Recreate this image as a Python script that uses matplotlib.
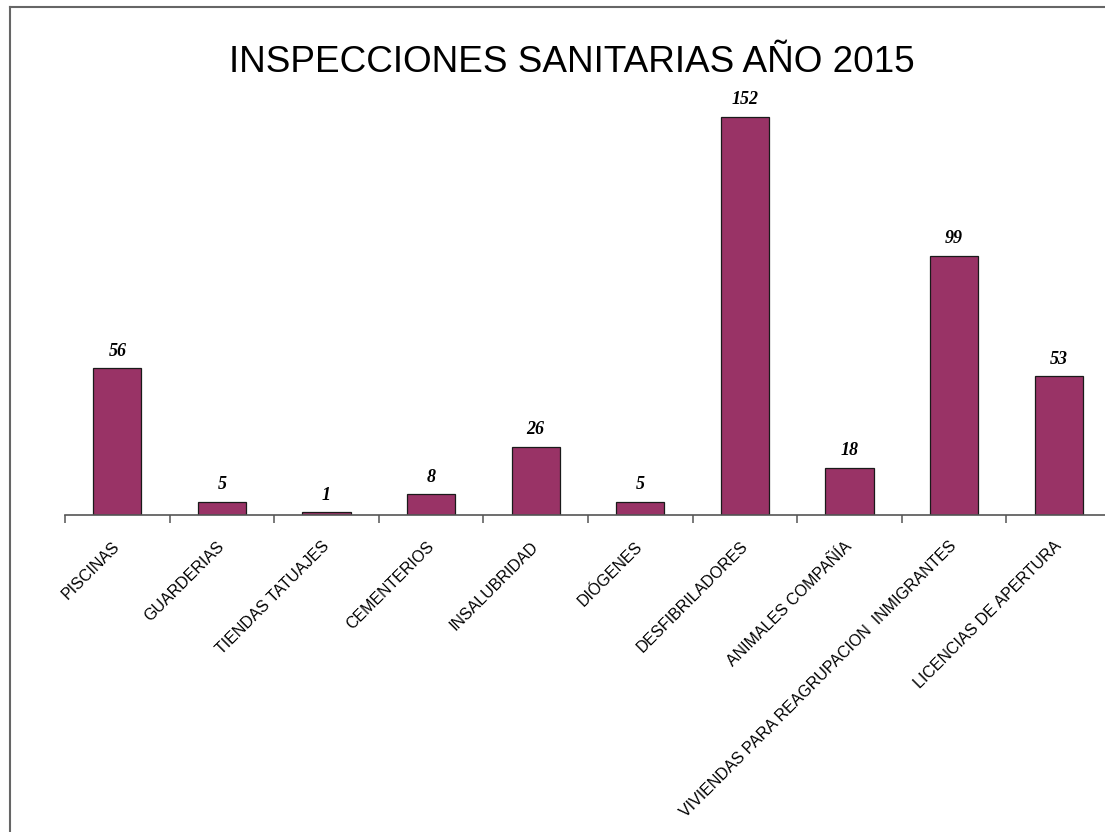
import matplotlib
matplotlib.use("Agg")
import matplotlib.pyplot as plt
from matplotlib.lines import Line2D
from matplotlib.transforms import ScaledTranslation

categories = [
    "PISCINAS", "GUARDERIAS", "TIENDAS TATUAJES", "CEMENTERIOS",
    "INSALUBRIDAD", "DIÓGENES", "DESFIBRILADORES", "ANIMALES COMPAÑÍA",
    "VIVIENDAS PARA REAGRUPACION  INMIGRANTES", "LICENCIAS DE APERTURA",
]
values = [56, 5, 1, 8, 26, 5, 152, 18, 99, 53]
title = "INSPECCIONES SANITARIAS AÑO 2015"

W, H = 1105, 832
fig = plt.figure(figsize=(W / 100, H / 100), dpi=100)
fig.patch.set_facecolor("white")

# axes placed in pixel terms: baseline at y=515, 10 slots of ~104.6 px from x=65
x0, base, top = 65, 515, 100
slot = 104.6
ax = fig.add_axes([x0 / W, (H - base) / H, 10 * slot / W, (base - top) / H])
ax.set_xlim(-0.5, len(categories) - 0.5)
ax.set_ylim(0, (base - top) / 2.62)

xs = list(range(len(categories)))
bars = ax.bar(xs, values, width=0.46, color="#993366", edgecolor="#1a1a1a", linewidth=0.9)

for b, v in zip(bars, values):
    ax.annotate(str(v), (b.get_x() + b.get_width() / 2, b.get_height()),
                xytext=(0, 9), textcoords="offset points", ha="center", va="baseline",
                fontsize=13, fontweight="bold", fontstyle="italic", family="Liberation Serif")

for s in ["left", "right", "top"]:
    ax.spines[s].set_visible(False)
ax.spines["bottom"].set_color("#555555")
ax.spines["bottom"].set_linewidth(1.2)
ax.set_yticks([])

ax.set_xticks([i - 0.5 for i in range(len(categories) + 1)])
ax.set_xticklabels([])
ax.tick_params(axis="x", which="major", length=6, width=1.1, color="#555555", direction="out")
ax.set_xticks(xs, minor=True)
ax.set_xticklabels(categories, minor=True, rotation=45, ha="right", va="top",
                   rotation_mode="anchor", fontsize=11.5, family="Liberation Sans")
ax.tick_params(axis="x", which="minor", length=0, pad=17)
shift = ScaledTranslation(-0.05, 0, fig.dpi_scale_trans)
for lbl in ax.get_xticklabels(minor=True):
    lbl.set_transform(lbl.get_transform() + shift)

fig.text(572 / W, 1 - 62 / H, title, ha="center", va="center",
         fontsize=26.6, family="Liberation Sans")

# outer frame (only left and top edges fall inside the picture)
fig.add_artist(Line2D([10 / W, 10 / W], [0, 1 - 7 / H], color="#666666", linewidth=1.5,
                      transform=fig.transFigure))
fig.add_artist(Line2D([10 / W, 1], [1 - 7 / H, 1 - 7 / H], color="#666666", linewidth=1.5,
                      transform=fig.transFigure))

fig.savefig("out.png", dpi=100)
